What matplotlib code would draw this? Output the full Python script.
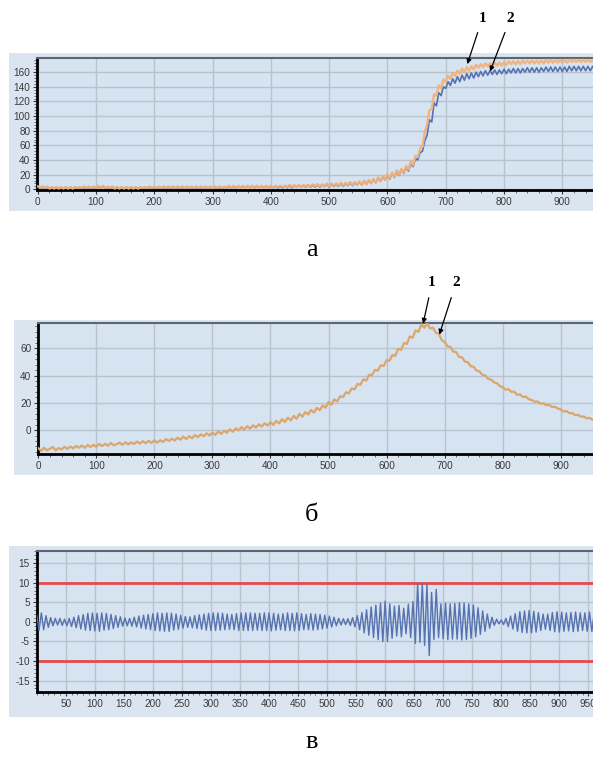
import numpy as np
import matplotlib
matplotlib.use("Agg")
import matplotlib.pyplot as plt
from matplotlib.patches import Rectangle
from matplotlib.ticker import MultipleLocator

plt.rcParams["axes.unicode_minus"] = False

# ---- panel а: curve 1 (orange) and curve 2 (blue), read every 4 units ----
x_a = np.arange(0, 1000, 4)
a_curve1 = [
    4, 2, 4, 2, 4, 1, 3, 1, 3, 1, 3, 1, 3, 1, 3, 1, 3, 2, 3, 2, 4, 2, 4, 2, 4,
    2, 5, 2, 5, 2, 4, 2, 4, 1, 3, 1, 3, 1, 3, 1, 3, 1, 3, 1, 3, 2, 3, 2, 4, 2,
    4, 2, 4, 2, 4, 2, 4, 2, 4, 2, 4, 2, 4, 2, 4, 2, 4, 2, 4, 2, 4, 2, 4, 2, 4,
    2, 4, 2, 4, 2, 4, 2, 5, 2, 5, 2, 5, 2, 5, 2, 5, 2, 5, 2, 5, 2, 5, 2, 5, 2,
    5, 2, 5, 3, 5, 3, 5, 3, 6, 3, 6, 3, 6, 3, 6, 4, 6, 4, 7, 4, 7, 4, 7, 4, 8,
    4, 8, 5, 8, 5, 9, 5, 9, 6, 10, 6, 10, 6, 11, 6, 12, 7, 13, 8, 14, 9, 16, 11, 18, 13,
    21, 15, 23, 17, 26, 20, 28, 23, 32, 27, 38, 33, 46, 44, 56, 58, 78, 88, 108, 110, 130, 128, 142, 138, 150,
    147, 155, 151, 159, 155, 162, 158, 165, 160, 167, 162, 168, 164, 170, 166, 171, 167, 172, 168, 172, 168, 173, 169, 173, 169,
    174, 170, 175, 171, 175, 171, 175, 171, 176, 172, 176, 172, 176, 172, 176, 172, 176, 172, 177, 173, 177, 173, 177, 173, 177,
    173, 177, 173, 177, 174, 177, 174, 177, 174, 177, 174, 177, 174, 177, 174, 177, 174, 177, 174, 177, 174, 177, 174, 177, 174,
]
a_curve2 = [
    3, 1, 3, 1, 3, 1, 3, 1, 3, 1, 3, 1, 3, 1, 3, 1, 3, 1, 3, 1, 3, 1, 3, 1, 3,
    1, 4, 1, 4, 1, 3, 1, 3, 1, 3, 1, 3, 1, 3, 1, 3, 1, 3, 1, 3, 1, 3, 1, 3, 1,
    3, 1, 3, 1, 3, 1, 3, 1, 3, 1, 3, 1, 3, 1, 3, 1, 3, 1, 3, 1, 3, 1, 3, 1, 3,
    1, 3, 1, 3, 1, 3, 1, 4, 1, 4, 1, 4, 2, 4, 2, 4, 2, 4, 2, 4, 2, 4, 2, 4, 2,
    4, 2, 4, 2, 4, 2, 5, 2, 5, 2, 5, 3, 5, 3, 5, 3, 6, 3, 6, 3, 6, 3, 6, 4, 7,
    3, 7, 4, 7, 4, 8, 4, 8, 5, 9, 5, 9, 6, 10, 6, 11, 7, 12, 8, 14, 9, 16, 11, 17, 13,
    19, 14, 22, 16, 25, 19, 27, 22, 30, 25, 35, 31, 42, 40, 50, 52, 66, 74, 95, 92, 118, 114, 132, 128, 140,
    138, 147, 142, 151, 145, 154, 147, 156, 149, 158, 151, 159, 152, 160, 154, 161, 155, 162, 156, 162, 157, 163, 157, 163, 158,
    164, 158, 164, 159, 165, 159, 165, 159, 165, 160, 166, 160, 166, 160, 166, 160, 166, 161, 167, 161, 167, 161, 167, 161, 167,
    161, 167, 161, 168, 162, 168, 162, 168, 162, 168, 162, 168, 162, 168, 162, 168, 162, 168, 162, 168, 162, 168, 162, 168, 162,
]

# ---- panel б: one noisy curve, read every 5 units ----
x_b = np.arange(0, 1000, 5)
b_curve = [
    -13.2, -15.3, -13.0, -14.8, -13.6, -12.4, -14.9, -13.1, -14.2, -12.2, -13.8, -12.0, -13.4, -11.6, -12.9, -11.3, -13.0, -10.9, -12.4, -10.8,
    -12.2, -10.1, -11.7, -10.0, -11.4, -9.4, -11.1, -10.3, -9.2, -10.8, -8.9, -10.5, -9.0, -10.1, -8.4, -9.9, -8.1, -9.6, -7.9, -9.3,
    -7.6, -9.2, -7.4, -8.7, -6.6, -8.0, -6.3, -7.6, -5.6, -7.0, -4.8, -6.6, -4.5, -6.0, -3.6, -5.2, -3.1, -4.5, -2.4, -3.9,
    -1.8, -3.6, -0.9, -2.8, -0.5, -1.9, 0.6, -1.2, 1.3, -0.2, 2.2, 0.4, 2.9, 1.1, 3.5, 1.9, 4.2, 2.6, 5.0, 3.3,
    5.9, 3.8, 6.8, 4.9, 8.0, 6.0, 9.1, 7.2, 10.4, 8.3, 11.9, 9.8, 13.2, 11.4, 14.8, 12.9, 16.3, 14.6, 18.1, 16.3,
    20.6, 18.7, 22.5, 21.0, 24.8, 24.2, 27.7, 26.9, 30.6, 29.8, 33.9, 33.2, 37.3, 36.2, 40.6, 40.2, 44.1, 43.6, 47.5, 47.0,
    51.2, 50.8, 55.0, 54.4, 59.6, 58.7, 63.8, 63.2, 68.6, 67.8, 73.0, 72.0, 77.5, 75.0, 78.3, 74.5, 75.0, 71.2, 70.6, 66.0,
    64.6, 61.4, 61.0, 57.5, 57.2, 53.6, 53.4, 50.2, 49.8, 46.8, 46.4, 43.6, 43.1, 40.5, 40.0, 37.6, 37.1, 35.0, 34.4, 32.4,
    31.4, 29.6, 30.0, 28.0, 28.2, 25.8, 26.2, 24.2, 24.6, 22.6, 22.1, 20.8, 21.0, 19.4, 19.7, 18.2, 18.6, 17.0, 17.2, 15.8,
    15.2, 13.6, 14.0, 12.4, 12.5, 11.0, 11.2, 9.8, 10.0, 8.6, 8.9, 7.6, 7.8, 6.7, 6.9, 5.8, 6.0, 5.0, 5.2, 4.2,
]

# ---- panel в: oscillation peaks/troughs every 4 units, limits at +-10 ----
x_v = np.arange(0, 1000, 4)
v_signal = [
    1.8, -2.2, 2.3, -2.0, 1.6, -1.4, 1.1, -1.0, 0.9, -0.8, 0.9, -0.9, 0.7, -1.0, 0.9, -1.2, 1.2, -1.5, 1.6, -1.8, 1.9, -2.1, 2.2, -2.2, 2.3,
    -2.3, 2.2, -2.4, 2.3, -2.1, 2.2, -2.0, 1.9, -1.7, 1.6, -1.4, 1.3, -1.1, 1.0, -1.0, 0.9, -1.1, 1.2, -1.3, 1.5, -1.6, 1.7, -1.8, 1.9, -2.0,
    2.1, -2.2, 2.3, -2.3, 2.2, -2.4, 2.3, -2.4, 2.2, -2.1, 2.0, -1.9, 1.7, -1.6, 1.4, -1.4, 1.3, -1.5, 1.6, -1.7, 1.8, -1.9, 2.0, -2.1, 2.2,
    -2.2, 2.3, -2.2, 2.3, -2.1, 2.2, -2.0, 2.0, -1.9, 1.9, -2.0, 2.1, -2.2, 2.3, -2.2, 2.3, -2.2, 2.3, -2.2, 2.2, -2.1, 2.2, -2.2, 2.3, -2.2,
    2.3, -2.3, 2.2, -2.1, 2.0, -2.0, 2.1, -2.2, 2.3, -2.2, 2.2, -2.3, 2.3, -2.2, 2.1, -2.0, 1.9, -2.0, 2.1, -2.1, 2.0, -2.0, 1.9, -1.8, 1.7,
    -1.6, 1.5, -1.3, 1.2, -1.0, 0.9, -0.8, 0.8, -0.7, 0.8, -0.9, 1.1, -1.3, 1.6, -2.0, 2.4, -2.8, 3.1, -3.4, 3.8, -4.0, 4.3, -4.5, 4.8, -5.0,
    5.3, -5.0, 4.6, -4.2, 4.0, -3.6, 4.2, -3.8, 3.5, -3.0, 4.5, -4.0, 5.2, -5.5, 9.8, -5.2, 9.8, -6.0, 9.5, -8.6, 7.5, -4.5, 8.3, -4.0, 4.6,
    -4.3, 4.8, -4.5, 4.6, -4.4, 4.7, -4.4, 4.9, -4.6, 4.8, -4.5, 4.6, -4.2, 4.3, -3.8, 3.6, -3.2, 2.8, -2.4, 2.0, -1.6, 1.2, -0.9, 0.7, -0.5,
    0.5, -0.7, 0.9, -1.2, 1.5, -1.8, 2.1, -2.4, 2.6, -2.7, 2.8, -2.8, 2.9, -2.8, 2.7, -2.6, 2.4, -2.2, 2.0, -1.9, 2.0, -2.2, 2.4, -2.5, 2.6,
    -2.6, 2.5, -2.4, 2.3, -2.3, 2.4, -2.5, 2.5, -2.4, 2.3, -2.2, 2.3, -2.4, 2.5, -2.5, 2.4, -2.3, 2.2, -2.2, 2.3, -2.4, 2.4, -2.3, 2.2, -2.2,
]
v_limits = [10, -10]

# tick labels
a_xticks = list(range(0, 1000, 100))
a_yticks = list(range(0, 180, 20))
b_xticks = list(range(0, 1000, 100))
b_yticks = [0, 20, 40, 60]
v_xticks = list(range(50, 1000, 50))
v_yticks = [-15, -10, -5, 0, 5, 10, 15]
panel_labels = ["а", "б", "в"]

# colours
PANEL_BG = "#dbe5f0"
AXES_BG = "#d6e3f0"
GRID_C = "#b9c3cd"
ORANGE = "#f2b27a"
TAN = "#dba66c"
BLUE = "#5672b0"
RED = "#e8484a"

W, H = 593, 764
TICK_FONT = ["Liberation Sans", "DejaVu Sans"]


def px_box(x0, y0, x1, y1):
    # figure rectangle given in pixel coords of the reference (y from top)
    return [x0 / W, 1 - y1 / H, (x1 - x0) / W, (y1 - y0) / H]


def style_axes(ax, xticks, yticks, xminor, yminor):
    ax.set_facecolor(AXES_BG)
    ax.set_xticks(xticks)
    ax.set_yticks(yticks)
    ax.xaxis.set_minor_locator(MultipleLocator(xminor))
    ax.yaxis.set_minor_locator(MultipleLocator(yminor))
    ax.grid(True, which="major", color=GRID_C, linewidth=1.0)
    ax.set_axisbelow(True)
    ax.spines["left"].set_linewidth(2.0)
    ax.spines["bottom"].set_linewidth(2.0)
    ax.spines["left"].set_color("black")
    ax.spines["bottom"].set_color("black")
    ax.spines["top"].set_color("#5d6670")
    ax.spines["top"].set_linewidth(1.5)
    ax.spines["right"].set_visible(False)
    ax.tick_params(which="major", length=3, width=0.8, color="#333333",
                   labelsize=7.2, labelcolor="#3a3a3a", pad=2)
    ax.tick_params(which="minor", length=2, width=0.6, color="#555555")
    for lab in ax.get_xticklabels() + ax.get_yticklabels():
        lab.set_family(TICK_FONT)


def arrow_label(ax, text, xy, txy):
    ax.annotate(text, xy=xy, xycoords="data",
                xytext=(txy[0] / W, 1 - txy[1] / H), textcoords="figure fraction",
                ha="center", va="center", fontsize=11, fontweight="bold",
                family=["Liberation Serif", "DejaVu Serif"],
                arrowprops=dict(arrowstyle="-|>", color="black", lw=0.9,
                                mutation_scale=7, shrinkA=4, shrinkB=0),
                annotation_clip=False)


def create_figure():
    fig = plt.figure(figsize=(W / 100, H / 100), dpi=100)
    fig.patch.set_facecolor("white")

    # outer light-blue panels, kept behind the axes
    for box in [(9, 53, 600, 211), (14, 320, 600, 475), (9, 546, 600, 717)]:
        fig.patches.append(Rectangle((box[0] / W, 1 - box[3] / H),
                                     (box[2] - box[0]) / W, (box[3] - box[1]) / H,
                                     transform=fig.transFigure, facecolor=PANEL_BG,
                                     edgecolor="none", zorder=-10))

    # панель а
    ax_a = fig.add_axes(px_box(37.2, 58.3, 37.2 + 1001 * 0.5828, 189.7))
    ax_a.plot(x_a, a_curve2, color=BLUE, linewidth=1.2, zorder=2)
    ax_a.plot(x_a, a_curve1, color=ORANGE, linewidth=1.7, alpha=0.95, zorder=3)
    ax_a.set_xlim(-1, 1000)
    ax_a.set_ylim(-0.5, 179)
    style_axes(ax_a, a_xticks, a_yticks, 20, 4)
    arrow_label(ax_a, "1", (737, 171), (482.5, 18))
    arrow_label(ax_a, "2", (776, 161), (510.5, 18))

    # панель б
    ax_b = fig.add_axes(px_box(38.3, 322.7, 38.3 + 1000 * 0.5804, 454))
    ax_b.plot(x_b, b_curve, color=TAN, linewidth=1.6, zorder=3)
    ax_b.set_xlim(0, 1000)
    ax_b.set_ylim(-17.5, 78.7)
    style_axes(ax_b, b_xticks, b_yticks, 20, 4)
    arrow_label(ax_b, "1", (663, 78), (432, 283))
    arrow_label(ax_b, "2", (691, 70), (456, 283))

    # панель в
    ax_v = fig.add_axes(px_box(36.7, 551, 36.7 + 1000 * 0.5807, 692))
    for lim in v_limits:
        ax_v.axhline(lim, color=RED, linewidth=2.0, zorder=2)
    ax_v.plot(x_v, v_signal, color=BLUE, linewidth=1.0, zorder=3)
    ax_v.set_xlim(0, 1000)
    ax_v.set_ylim(-17.9, 18.1)
    style_axes(ax_v, v_xticks, v_yticks, 10, 1)

    # подписи панелей
    for lab, ypx in zip(panel_labels, [250, 515, 742]):
        fig.text(312 / W, 1 - ypx / H, lab, ha="center", va="center",
                 fontsize=19, family=["Liberation Serif", "DejaVu Serif"])

    fig.savefig("out.png", dpi=100, facecolor="white")
    plt.close(fig)


def main():
    create_figure()


if __name__ == "__main__":
    main()
